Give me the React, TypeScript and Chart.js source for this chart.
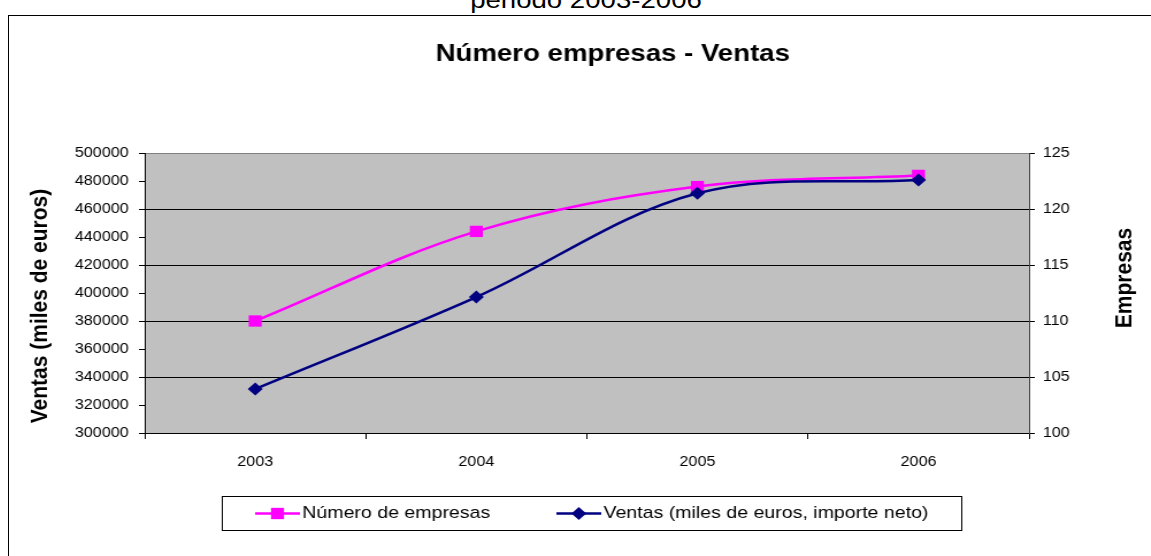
import React, { useEffect, useRef } from 'react';
import { Chart, registerables } from 'chart.js';

Chart.register(...registerables);

// ---- data ----
const categories = ['2003', '2004', '2005', '2006'];
const empresas = [110, 118, 122, 123];
const ventas = [331400, 397100, 471200, 480700];
const ventasRange = [300000, 500000, 20000];
const empresasRange = [100, 125, 5];
const ventasGridValues = [340000, 380000, 420000, 460000];

const chartTitle = 'Número empresas - Ventas';
const leftTitle = 'Ventas (miles de euros)';
const rightTitle = 'Empresas';
const topText = 'periodo 2003-2006';
const empresasLabel = 'Número de empresas';
const ventasLabel = 'Ventas (miles de euros, importe neto)';

const PINK = '#FF00FF';
const NAVY = '#000080';
const FONT = '"Liberation Sans", Arial, sans-serif';
const SX = 1.15; // horizontal stretch of the original picture
const W = 993;
const H = 540;

const drawMarker = (ctx: CanvasRenderingContext2D, style: string, x: number, y: number, r: number, color: string) => {
  ctx.fillStyle = color;
  ctx.beginPath();
  if (style === 'rect') {
    const s = Math.SQRT1_2 * r;
    ctx.rect(x - s, y - s, 2 * s, 2 * s);
  } else {
    ctx.moveTo(x, y - r);
    ctx.lineTo(x + r, y);
    ctx.lineTo(x, y + r);
    ctx.lineTo(x - r, y);
    ctx.closePath();
  }
  ctx.fill();
};

const decorPlugin = {
  id: 'decor',
  beforeDraw(chart: any) {
    const { ctx, chartArea: a } = chart;
    ctx.save();
    ctx.fillStyle = '#C0C0C0';
    ctx.fillRect(a.left, a.top, a.right - a.left, a.bottom - a.top);
    ctx.restore();
  },
  afterDraw(chart: any) {
    const { ctx } = chart;
    ctx.save();
    // title
    ctx.fillStyle = '#000';
    ctx.font = `bold 24px ${FONT}`;
    ctx.textAlign = 'center';
    ctx.textBaseline = 'middle';
    ctx.fillText(chartTitle, 525, 38);

    // axis titles
    ctx.font = `bold 21px ${FONT}`;
    ctx.save();
    ctx.translate(27, 290);
    ctx.rotate(-Math.PI / 2);
    ctx.fillText(leftTitle, 0, 0);
    ctx.restore();
    ctx.save();
    ctx.translate(970, 262);
    ctx.rotate(-Math.PI / 2);
    ctx.fillText(rightTitle, 0, 0);
    ctx.restore();

    // legend
    ctx.strokeStyle = '#000';
    ctx.lineWidth = 1;
    ctx.strokeRect(185.5, 480.5, 643, 34);
    const ly = 497.5;
    const ds = chart.data.datasets;
    const items = [
      { d: ds.find((x: any) => x.label === empresasLabel), x1: 214, x2: 253 },
      { d: ds.find((x: any) => x.label === ventasLabel), x1: 476, x2: 515 },
    ];
    ctx.font = `17px ${FONT}`;
    ctx.textAlign = 'left';
    items.forEach((it) => {
      ctx.strokeStyle = it.d.borderColor;
      ctx.lineWidth = 2.5;
      ctx.beginPath();
      ctx.moveTo(it.x1, ly);
      ctx.lineTo(it.x2, ly);
      ctx.stroke();
      drawMarker(ctx, it.d.pointStyle, (it.x1 + it.x2) / 2, ly, it.d.pointRadius, it.d.pointBackgroundColor);
      ctx.fillStyle = '#000';
      ctx.fillText(it.d.label, it.x2 + 2, ly);
    });
    ctx.restore();
  },
};

export default function App() {
  const ref = useRef<HTMLCanvasElement>(null);
  useEffect(() => {
    if (!ref.current) return;
    const chart = new Chart(ref.current, {
      type: 'line',
      data: {
        labels: categories,
        datasets: [
          {
            label: ventasLabel,
            data: ventas,
            yAxisID: 'y',
            borderColor: NAVY,
            backgroundColor: NAVY,
            pointBackgroundColor: NAVY,
            pointBorderColor: NAVY,
            pointStyle: 'rectRot',
            pointRadius: 6.5,
            pointBorderWidth: 0,
            borderWidth: 2.5,
            tension: 0.35,
            order: 0,
          },
          {
            label: empresasLabel,
            data: empresas,
            yAxisID: 'y1',
            borderColor: PINK,
            backgroundColor: PINK,
            pointBackgroundColor: PINK,
            pointBorderColor: PINK,
            pointStyle: 'rect',
            pointRadius: 8,
            pointBorderWidth: 0,
            borderWidth: 2.5,
            tension: 0.35,
            order: 1,
          },
        ],
      },
      options: {
        animation: false,
        responsive: false,
        devicePixelRatio: 1,
        layout: { padding: { top: 137, bottom: 63, left: 0, right: 0 } },
        plugins: {
          legend: { display: false },
          title: { display: false },
          tooltip: { enabled: false },
        },
        scales: {
          x: {
            type: 'category',
            offset: true,
            afterFit: (s: any) => { s.height = 60; },
            grid: { drawOnChartArea: false, offset: true, tickLength: 6, color: '#000', tickColor: '#000' },
            border: { color: '#000', width: 1 },
            ticks: { color: '#000', font: { family: FONT, size: 14 }, padding: 15, maxRotation: 0 },
          },
          y: {
            position: 'left',
            min: ventasRange[0],
            max: ventasRange[1],
            afterFit: (s: any) => { s.width = 118; },
            grid: {
              tickLength: 5,
              tickColor: '#000',
              lineWidth: 1,
              color: (c: any) => {
                const v = c.tick && c.tick.value;
                if (ventasGridValues.includes(v)) return '#000';
                if (v === ventasRange[1]) return '#808080';
                return 'rgba(0,0,0,0)';
              },
            },
            border: { color: '#000', width: 1 },
            ticks: {
              stepSize: ventasRange[2],
              color: '#000',
              font: { family: FONT, size: 14 },
              padding: 9,
              callback: (v: any) => String(v),
            },
          },
          y1: {
            position: 'right',
            min: empresasRange[0],
            max: empresasRange[1],
            afterFit: (s: any) => { s.width = W - 887; },
            grid: { drawOnChartArea: false, tickLength: 5, tickColor: '#000', color: '#000' },
            border: { color: '#404040', width: 1 },
            ticks: {
              stepSize: empresasRange[2],
              color: '#000',
              font: { family: FONT, size: 14 },
              padding: 7,
              callback: (v: any) => String(v),
            },
          },
        },
      },
      plugins: [decorPlugin],
    });
    return () => chart.destroy();
  }, []);

  return (
    <div style={{ position: 'fixed', left: 0, top: 0, width: 1151, height: 556, overflow: 'hidden', background: '#fff' }}>
      <div
        style={{
          position: 'absolute',
          left: 586,
          top: 8 - 0.8465 * 24,
          font: `24px ${FONT}`,
          lineHeight: '24px',
          whiteSpace: 'nowrap',
          color: '#000',
          transform: `translateX(-50%) scaleX(${SX})`,
        }}
      >
        {topText}
      </div>
      <div
        style={{
          position: 'absolute',
          left: 8,
          top: 15,
          width: 1160,
          height: 560,
          border: '1px solid #000',
        }}
      />
      <div
        style={{
          position: 'absolute',
          left: 9,
          top: 16,
          width: W,
          height: H,
          transform: `scaleX(${SX})`,
          transformOrigin: '0 0',
        }}
      >
        <canvas ref={ref} width={W} height={H} style={{ display: 'block', width: W, height: H }} />
      </div>
    </div>
  );
}
